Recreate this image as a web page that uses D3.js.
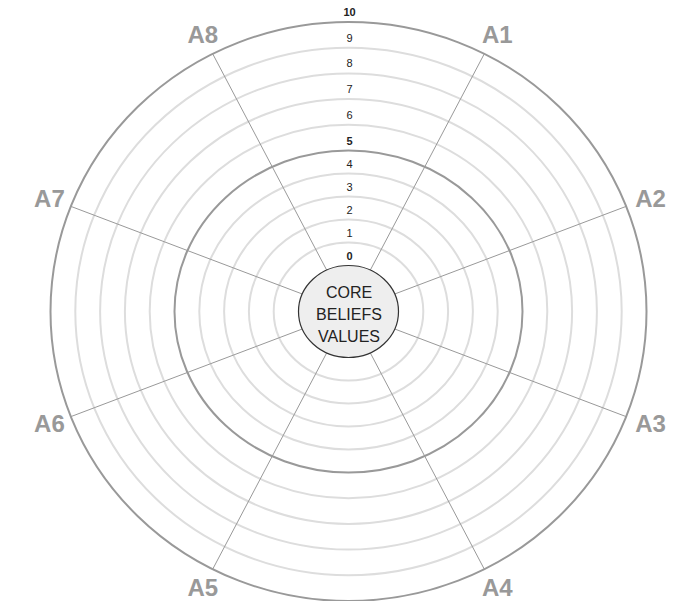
<!DOCTYPE html>
<html><head><meta charset="utf-8">
<script src="https://cdn.jsdelivr.net/npm/d3@7"></script>
<style>body{margin:0;background:#fff}svg{display:block}</style>
</head><body>
<svg id="chart" width="690" height="601"></svg>
<script>
// ---- data ----
const axesRight = ["A1", "A2", "A3", "A4"];
const axesLeft = ["A5", "A6", "A7", "A8"];
const levels = [0, 1, 2, 3, 4, 5, 6, 7, 8, 9, 10];
const levelLabels = ["0", "1", "2", "3", "4", "5", "6", "7", "8", "9", "10"];
const majorLevels = [0, 5, 10];
const coreLines = ["CORE", "BELIEFS", "VALUES"];

// ---- layout ----
const cx = 348.5, cy = 311.5;
const svg = d3.select("#chart");
const rx = d3.scaleLinear().domain([0, 10]).range([50, 298]);
const ry = d3.scaleLinear().domain([0, 5, 10]).range([46, 161, 289.5]);
const angR = d3.scalePoint().domain(axesRight).range([0, 180]).padding(0.67);
const angL = d3.scalePoint().domain(axesLeft).range([180, 360]).padding(0.67);
const ang = a => (axesRight.includes(a) ? angR(a) : angL(a)) * Math.PI / 180;
function edge(v, t) {
  const a = rx(v), b = ry(v), s = Math.sin(t), c = Math.cos(t);
  const k = 1 / Math.sqrt((s / a) ** 2 + (c / b) ** 2);
  return [cx + s * k, cy - c * k];
}
const isMajor = v => majorLevels.includes(v);
const axes = axesRight.concat(axesLeft);

// rings
svg.append("g").selectAll("ellipse")
  .data(levels.filter(v => v > 0))
  .join("ellipse")
  .attr("cx", cx).attr("cy", cy)
  .attr("rx", d => rx(d)).attr("ry", d => ry(d))
  .attr("fill", "none")
  .attr("stroke", d => isMajor(d) ? "#999" : "#ddd")
  .attr("stroke-width", 2);

// spokes
svg.append("g").selectAll("line")
  .data(axes)
  .join("line")
  .attr("x1", d => edge(0, ang(d))[0]).attr("y1", d => edge(0, ang(d))[1])
  .attr("x2", d => edge(10, ang(d))[0]).attr("y2", d => edge(10, ang(d))[1])
  .attr("stroke", "#999").attr("stroke-width", 1);

// core
svg.append("ellipse")
  .attr("cx", cx).attr("cy", cy)
  .attr("rx", rx(0)).attr("ry", ry(0))
  .attr("fill", "#eee").attr("stroke", "#333").attr("stroke-width", 1.2);

svg.append("g").selectAll("text")
  .data(coreLines)
  .join("text")
  .attr("x", cx + 0.5)
  .attr("y", (d, i) => cy + (i - 1) * 22 + 3)
  .attr("text-anchor", "middle").attr("dominant-baseline", "central")
  .attr("font-family", "Liberation Sans, Arial, sans-serif")
  .attr("font-size", 16).attr("fill", "#222")
  .text(d => d);

// level labels
svg.append("g").selectAll("text")
  .data(levels)
  .join("text")
  .attr("x", cx + 1)
  .attr("y", d => cy - ry(d) - 10)
  .attr("text-anchor", "middle").attr("dominant-baseline", "central")
  .attr("font-family", "Liberation Sans, Arial, sans-serif")
  .attr("font-size", 11)
  .attr("font-weight", d => isMajor(d) ? "bold" : "normal")
  .attr("fill", "#222")
  .text((d, i) => levelLabels[i]);

// axis labels
svg.append("g").selectAll("text")
  .data(axes)
  .join("text")
  .attr("x", d => edge(10, ang(d))[0] + Math.sin(ang(d)) * 24.5 + 1.5)
  .attr("y", d => edge(10, ang(d))[1] - Math.cos(ang(d)) * 21 - 0.5)
  .attr("text-anchor", "middle").attr("dominant-baseline", "central")
  .attr("font-family", "Liberation Sans, Arial, sans-serif")
  .attr("font-size", 24).attr("font-weight", "bold")
  .attr("fill", "#999")
  .text(d => d);
</script>
</body></html>
